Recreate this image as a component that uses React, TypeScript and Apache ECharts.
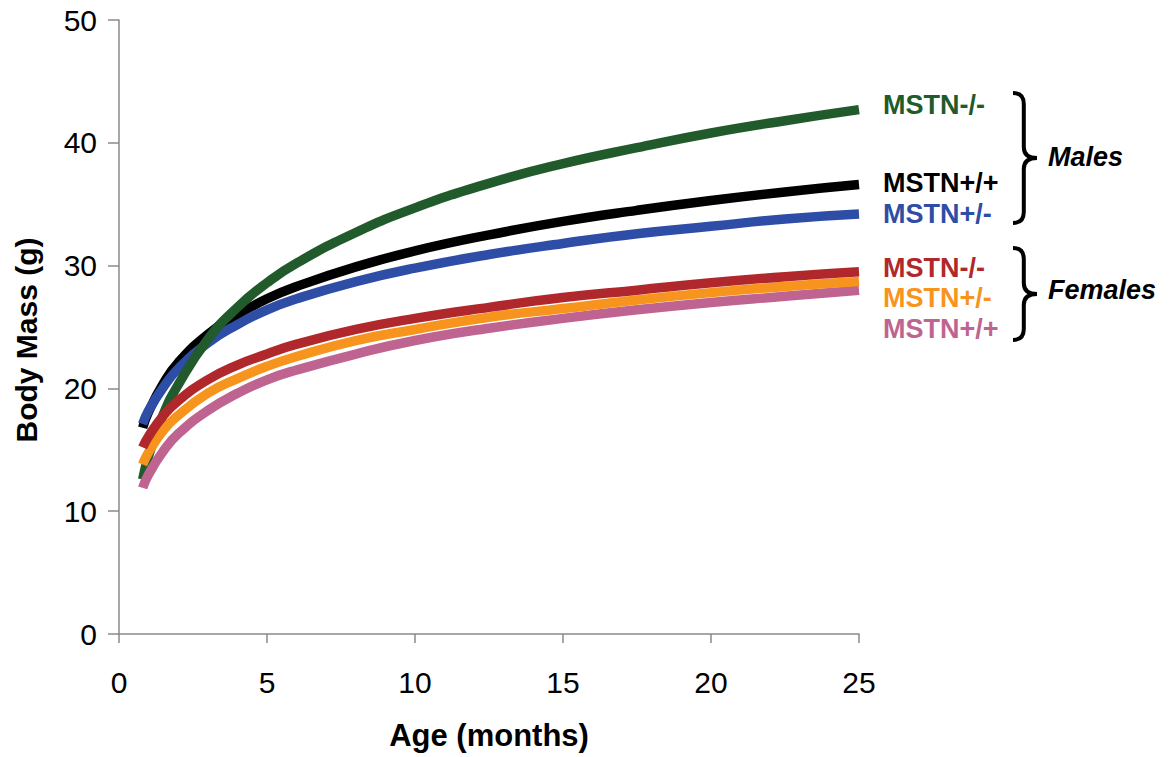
import React, { useEffect, useRef } from "react";
import * as echarts from "echarts";

const ages = [0.8, 1, 1.5, 2, 3, 4, 5, 6, 8, 10, 12.5, 15, 17.5, 20, 22.5, 25];

// Body mass (g), males
const maleKO = [12.6, 14.5, 17.9, 20.3, 24.0, 26.6, 28.6, 30.2, 32.7, 34.7, 36.7, 38.3, 39.6, 40.8, 41.8, 42.7];
const maleWT = [16.8, 18.1, 20.4, 22.1, 24.4, 26.0, 27.3, 28.3, 29.9, 31.2, 32.5, 33.6, 34.5, 35.3, 36.0, 36.6];
const maleHet = [17.1, 18.2, 20.1, 21.6, 23.7, 25.2, 26.4, 27.3, 28.7, 29.8, 30.9, 31.8, 32.6, 33.2, 33.8, 34.2];

// Body mass (g), females
const femaleKO = [15.2, 16.1, 17.8, 19.0, 20.7, 21.9, 22.8, 23.6, 24.8, 25.7, 26.6, 27.4, 28.0, 28.6, 29.1, 29.5];
const femaleHet = [13.8, 14.8, 16.6, 17.8, 19.6, 20.8, 21.8, 22.6, 23.9, 24.8, 25.8, 26.5, 27.2, 27.8, 28.3, 28.7];
const femaleWT = [11.9, 13.0, 14.9, 16.3, 18.2, 19.6, 20.7, 21.5, 22.8, 23.9, 24.9, 25.7, 26.4, 27.0, 27.5, 28.0];

const xTicks = [0, 5, 10, 15, 20, 25];
const yTicks = [0, 10, 20, 30, 40, 50];

const GREEN = "#215b2c";
const BLACK = "#000000";
const BLUE = "#2e4da6";
const RED = "#b0282b";
const ORANGE = "#f7941d";
const PINK = "#bf6490";
const AXIS_GREY = "#8a8a8a";

const FONT = "'Liberation Sans', Arial, Helvetica, sans-serif";

// Curly brace outline, opening to the right, tip at mid-height
function bracePath(h: number, w: number): string {
  const a = w * 0.45;
  const r = 11;
  const m = h / 2;
  return (
    `M0 0 Q${a} 0 ${a} ${r} L${a} ${m - r} Q${a} ${m} ${w} ${m} ` +
    `Q${a} ${m} ${a} ${m + r} L${a} ${h - r} Q${a} ${h} 0 ${h}`
  );
}

echarts.graphic.registerShape("braceMales", echarts.graphic.extendPath(bracePath(130, 24), {}));
echarts.graphic.registerShape("braceFemales", echarts.graphic.extendPath(bracePath(92, 24), {}));

const curves = [
  { name: "Males MSTN+/+", data: maleWT, color: BLACK },
  { name: "Males MSTN+/-", data: maleHet, color: BLUE },
  { name: "Males MSTN-/-", data: maleKO, color: GREEN },
  { name: "Females MSTN+/+", data: femaleWT, color: PINK },
  { name: "Females MSTN+/-", data: femaleHet, color: ORANGE },
  { name: "Females MSTN-/-", data: femaleKO, color: RED },
];

const labels = [
  { text: "MSTN-/-", color: GREEN, y: 105 },
  { text: "MSTN+/+", color: BLACK, y: 183 },
  { text: "MSTN+/-", color: BLUE, y: 214 },
  { text: "MSTN-/-", color: RED, y: 268 },
  { text: "MSTN+/-", color: ORANGE, y: 298 },
  { text: "MSTN+/+", color: PINK, y: 329 },
];

export default function App() {
  const ref = useRef<HTMLDivElement>(null);

  useEffect(() => {
    document.body.style.margin = "0";
    if (!ref.current) return;
    const chart = echarts.init(ref.current, undefined, { renderer: "svg" });

    const axisLine = { show: true, lineStyle: { color: AXIS_GREY, width: 1.5 } };

    chart.setOption({
      animation: false,
      backgroundColor: "#ffffff",
      grid: { left: 119, right: 315, top: 20, bottom: 123, containLabel: false },
      xAxis: {
        type: "value",
        min: xTicks[0],
        max: xTicks[xTicks.length - 1],
        interval: 5,
        name: "Age (months)",
        nameLocation: "middle",
        nameGap: 86,
        nameTextStyle: { fontFamily: FONT, fontSize: 31, fontWeight: "bold", color: "#000" },
        axisLine,
        axisTick: { show: true, length: 9, lineStyle: { color: AXIS_GREY, width: 1.5 } },
        axisLabel: { fontFamily: FONT, fontSize: 30, color: "#000", margin: 33 },
        splitLine: { show: false },
      },
      yAxis: {
        type: "value",
        min: yTicks[0],
        max: yTicks[yTicks.length - 1],
        interval: 10,
        axisLine,
        axisTick: { show: true, length: 11, lineStyle: { color: AXIS_GREY, width: 1.5 } },
        axisLabel: { fontFamily: FONT, fontSize: 30, color: "#000", margin: 22 },
        splitLine: { show: false },
      },
      series: curves.map((c) => ({
        name: c.name,
        type: "line",
        data: ages.map((a, i) => [a, c.data[i]]),
        smooth: 0.5,
        showSymbol: false,
        symbol: "none",
        lineStyle: { color: c.color, width: 9.5, cap: "butt" },
        itemStyle: { color: c.color },
      })),
      graphic: [
        {
          type: "text",
          x: 26,
          y: 340,
          rotation: Math.PI / 2,
          style: {
            text: "Body Mass (g)",
            fill: "#000",
            font: `bold 30px ${FONT}`,
            align: "center",
            verticalAlign: "middle",
          },
        },
        ...labels.map((l) => ({
          type: "text",
          left: 883,
          top: l.y - 14,
          style: {
            text: l.text,
            fill: l.color,
            font: `bold 27px ${FONT}`,
          },
        })),
        {
          type: "braceMales",
          x: 1013,
          y: 93,
          style: { stroke: "#000", fill: "none", lineWidth: 4 },
        },
        {
          type: "braceFemales",
          x: 1013,
          y: 248,
          style: { stroke: "#000", fill: "none", lineWidth: 4 },
        },
        {
          type: "text",
          left: 1048,
          top: 143,
          style: { text: "Males", fill: "#000", font: `italic bold 27px ${FONT}` },
        },
        {
          type: "text",
          left: 1048,
          top: 276,
          style: { text: "Females", fill: "#000", font: `italic bold 27px ${FONT}` },
        },
      ],
    });

    return () => chart.dispose();
  }, []);

  return <div ref={ref} style={{ width: 1174, height: 757 }} />;
}
